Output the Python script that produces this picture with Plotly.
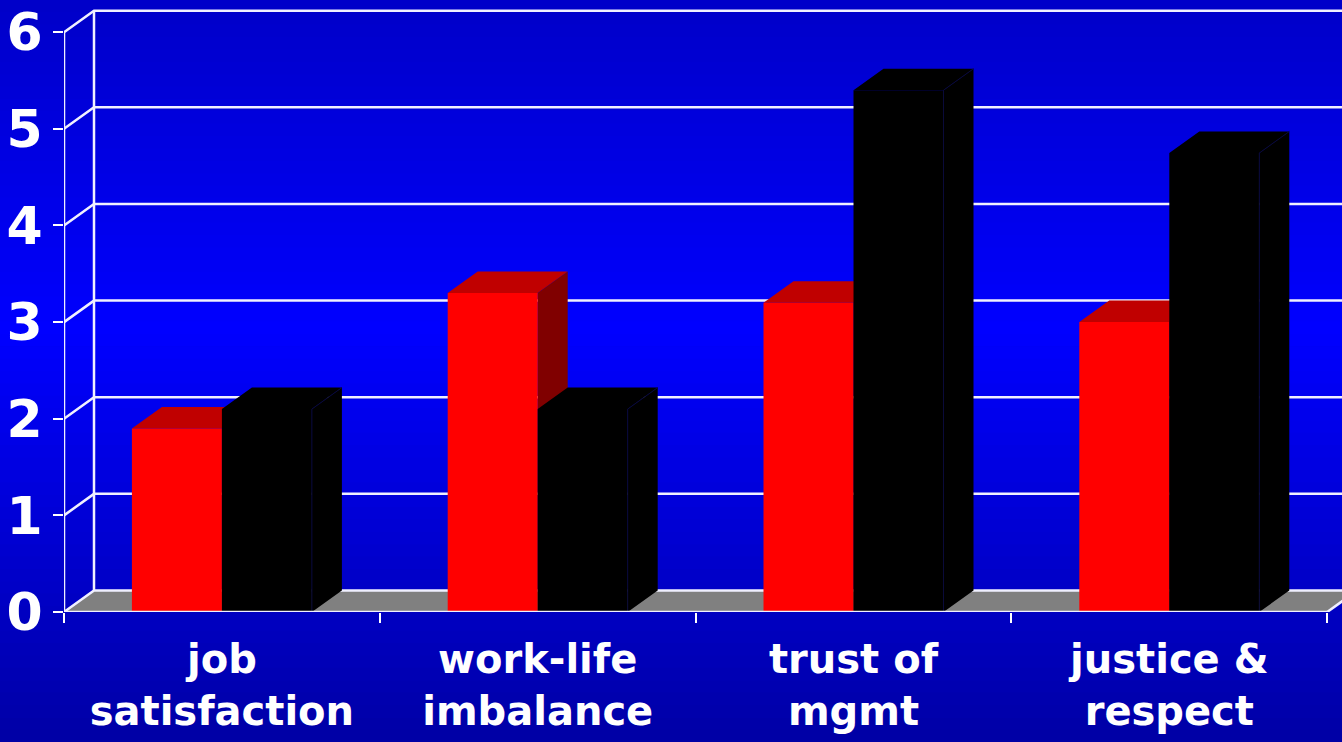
import plotly.graph_objects as go

# ---- data ----
categories = ["job<br>satisfaction", "work-life<br>imbalance", "trust of<br>mgmt", "justice &<br>respect"]
series_red = [1.9, 3.3, 3.2, 3.0]
series_black = [2.1, 2.1, 5.4, 4.75]
y_ticks = [0, 1, 2, 3, 4, 5, 6]

# ---- geometry (style) ----
W = 0.285      # half-pair bar width in category units
DX = 0.095     # depth offset in x (category units)
DY = 0.2225    # depth offset in y (value units)
FIG_W, FIG_H = 1342, 742
ML, MB = 64, 130
XMAX = -0.5 + (FIG_W - ML) / 315.8
YMAX = (FIG_H - MB) / 96.63

FONT = "DejaVu Sans"
RED_FRONT, RED_TOP, RED_SIDE = "#FF0000", "#C00000", "#800000"
BLK = "#000000"
LINE = "#F0F0FF"

n = len(categories)
xc = list(range(n))

def faces(x0, x1, h):
    front = ([x0, x1, x1, x0, x0], [0, 0, h, h, 0])
    top = ([x0, x1, x1 + DX, x0 + DX, x0], [h, h, h + DY, h + DY, h])
    side = ([x1, x1 + DX, x1 + DX, x1, x1], [0, DY, h + DY, h, 0])
    return front, top, side

def join(polys):
    xs, ys = [], []
    for px, py in polys:
        xs += px + [None]
        ys += py + [None]
    return xs, ys

fig = go.Figure()

# floor
x_left, x_right = -0.5, n - 0.5
fig.add_trace(go.Scatter(
    x=[x_left, x_right, x_right + DX, x_left + DX, x_left],
    y=[0, 0, DY, DY, 0], fill="toself", fillcolor="#808080",
    mode="lines", line=dict(width=0), hoverinfo="skip", showlegend=False))

# back wall lines + diagonals
gx, gy = [], []
for k in y_ticks:
    gx += [x_left, x_left + DX, XMAX + 1, None]
    gy += [k, k + DY, k + DY, None]
gx += [x_left + DX, x_left + DX, None, x_left, x_left, None, x_right, x_right + DX, None]
gy += [DY, y_ticks[-1] + DY, None, 0, y_ticks[-1], None, 0, DY, None]
fig.add_trace(go.Scatter(x=gx, y=gy, mode="lines", line=dict(color=LINE, width=2.5),
                         hoverinfo="skip", showlegend=False))

# bars
red_f, red_t, red_s, blk_f, blk_t, blk_s = [], [], [], [], [], []
for c, r, b in zip(xc, series_red, series_black):
    f, t, s = faces(c - W, c, r)
    red_f.append(f); red_t.append(t); red_s.append(s)
    f, t, s = faces(c, c + W, b)
    blk_f.append(f); blk_t.append(t); blk_s.append(s)

for polys, col, name in [(red_t, RED_TOP, "red top"), (red_s, RED_SIDE, "red side"),
                         (red_f, RED_FRONT, "Series 1"),
                         (blk_s, BLK, "black side"), (blk_t, BLK, "black top"),
                         (blk_f, BLK, "Series 2")]:
    xs, ys = join(polys)
    fig.add_trace(go.Scatter(x=xs, y=ys, fill="toself", fillcolor=col, mode="lines",
                             line=dict(width=0, color=col), hoverinfo="skip",
                             showlegend=False, name=name))

# subtle edges of black bars
ex, ey = [], []
for c, b in zip(xc, series_black):
    ex += [c + W, c + W, c + W + DX, None]
    ey += [0, b, b + DY, None]
fig.add_trace(go.Scatter(x=ex, y=ey, mode="lines", line=dict(color="#0A0A3A", width=1),
                         hoverinfo="skip", showlegend=False))

# front floor edge
fig.add_trace(go.Scatter(x=[x_left, x_right], y=[0, 0], mode="lines",
                         line=dict(color=LINE, width=2.5), hoverinfo="skip", showlegend=False))

# background gradient
shapes = []
N = 60
stops = [(0, 200), (330, 255), (742, 165)]
def blue_at(py):
    for (a, ca), (b2, cb) in zip(stops[:-1], stops[1:]):
        if a <= py <= b2:
            return ca + (cb - ca) * (py - a) / (b2 - a)
    return stops[-1][1]
plot_h = FIG_H - MB
for i in range(N):
    p0 = FIG_H * i / N
    p1 = FIG_H * (i + 1) / N
    col = "rgb(0,0,%d)" % round(blue_at((p0 + p1) / 2))
    shapes.append(dict(type="rect", xref="paper", yref="paper",
                       x0=-ML / (FIG_W - ML) - 0.01, x1=1.01,
                       y0=1 - (p1 + 0.6) / plot_h, y1=1 - p0 / plot_h,
                       fillcolor=col, line=dict(width=0), layer="below"))

fig.update_layout(
    width=FIG_W, height=FIG_H,
    margin=dict(l=ML, r=0, t=0, b=MB, pad=0),
    paper_bgcolor="#0000D8", plot_bgcolor="rgba(0,0,0,0)",
    shapes=shapes, showlegend=False,
    xaxis=dict(range=[-0.5, XMAX], tickmode="array", tickvals=xc, ticktext=categories,
               ticks="", showgrid=False, zeroline=False, showline=False,
               ticklabelstandoff=20,
               tickfont=dict(family=FONT, size=40, color="white", weight="bold"),
               minor=dict(ticks="outside", ticklen=10, tickwidth=2, tickcolor="white",
                          tickmode="array", tickvals=[x_left + i for i in range(n + 1)]),
               fixedrange=True),
    yaxis=dict(range=[0, YMAX], tickmode="array", tickvals=y_ticks,
               ticktext=[str(v) for v in y_ticks],
               ticks="outside", ticklen=10, tickwidth=2, tickcolor="white",
               showgrid=False, zeroline=False, showline=False,
               tickfont=dict(family=FONT, size=52, color="white", weight="bold"),
               fixedrange=True),
)

fig.write_html("out.html", config={"displayModeBar": False},
               post_script="document.body.style.margin='0px';document.body.style.overflow='hidden';")
